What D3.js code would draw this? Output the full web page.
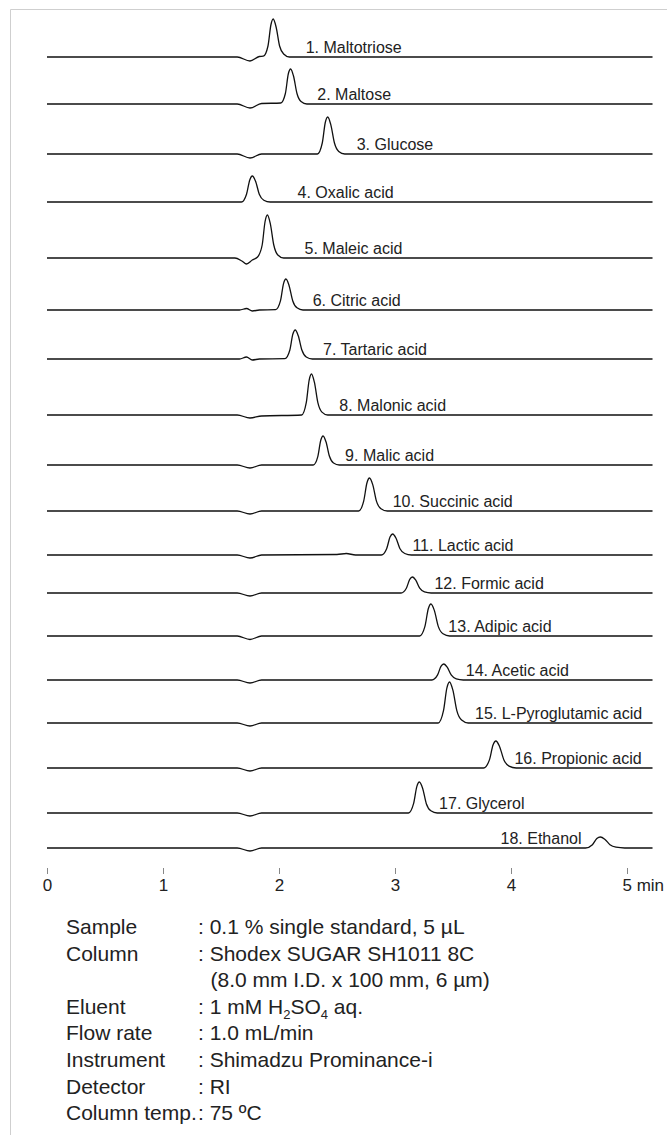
<!DOCTYPE html>
<html>
<head>
<meta charset="utf-8">
<script src="https://cdn.jsdelivr.net/npm/d3@7"></script>
<style>
  body { margin: 0; background: #fff; }
  svg { display: block; font-family: "Liberation Sans", Arial, sans-serif; }
</style>
</head>
<body>
<div id="viz"></div>
<script>
// compound names, one chromatogram each (top to bottom)
const compounds = [
    "1. Maltotriose", "2. Maltose", "3. Glucose", "4. Oxalic acid", "5. Maleic acid",
    "6. Citric acid", "7. Tartaric acid", "8. Malonic acid", "9. Malic acid",
    "10. Succinic acid", "11. Lactic acid", "12. Formic acid", "13. Adipic acid",
    "14. Acetic acid", "15. L-Pyroglutamic acid", "16. Propionic acid",
    "17. Glycerol", "18. Ethanol"
];

// stacking offset of each trace (signal units)
const offsets = [791, 744, 694, 646, 590, 538, 489, 433, 383, 337, 293, 255, 212, 168, 125, 80, 35, 0];

// where each peak label starts (min)
const labelTimes = [2.23, 2.33, 2.67, 2.16, 2.22, 2.29, 2.38, 2.52, 2.57, 2.98, 3.15, 3.34, 3.46, 3.61, 3.69, 4.03, 3.38, 3.91];

// traces: [time (min), signal]
const signals = [
    [[0,0],[1.64,0],[1.75,-4],[1.83,0.5],[1.865,0.8],[1.905,11],[1.93,32],[1.95,38],[1.975,30],[2.005,11],[2.04,3],[2.09,0],[5.22,0]],
    [[0,0],[1.64,0],[1.75,-4],[1.85,0.5],[2.015,1],[2.055,10.5],[2.08,30],[2.10,35],[2.125,28],[2.155,10.5],[2.19,2.5],[2.24,0],[5.22,0]],
    [[0,0],[1.64,0],[1.75,-4],[1.85,0],[2.331,0],[2.373,11],[2.399,31.5],[2.42,37],[2.446,29.6],[2.478,11],[2.515,2.6],[2.567,0],[5.22,0]],
    [[0,0],[1.676,0],[1.72,7.8],[1.748,22],[1.77,26],[1.798,20.8],[1.83,7.8],[1.869,1.8],[1.924,0],[5.22,0]],
    [[0,0],[1.62,0],[1.68,-3],[1.72,-6],[1.77,-2],[1.815,1],[1.855,13],[1.88,36.5],[1.90,43],[1.925,34.4],[1.955,13],[1.99,3],[2.04,0],[5.22,0]],
    [[0,0],[1.66,0],[1.72,1.5],[1.77,-1],[1.83,0],[1.971,0.3],[2.013,9.3],[2.039,26.4],[2.06,31],[2.086,24.8],[2.118,9.3],[2.155,2.2],[2.207,0],[5.22,0]],
    [[0,0],[1.66,0],[1.72,2],[1.77,-1],[1.83,0],[2.051,0.3],[2.093,8.7],[2.119,24.7],[2.14,29],[2.166,23.2],[2.198,8.7],[2.235,2],[2.287,0],[5.22,0]],
    [[0,0],[1.64,0],[1.75,-3],[1.85,-1],[2.195,0],[2.235,12.3],[2.26,34.9],[2.28,41],[2.305,32.8],[2.335,12.3],[2.37,2.9],[2.42,0],[5.22,0]],
    [[0,0],[1.64,0],[1.75,-3],[1.85,0],[2.295,0],[2.335,8.7],[2.36,24.7],[2.38,29],[2.405,23.2],[2.435,8.7],[2.47,2],[2.52,0],[5.22,0]],
    [[0,0],[1.64,0],[1.75,-3],[1.85,0],[2.686,0],[2.73,9.9],[2.758,28],[2.78,33],[2.808,26.4],[2.84,9.9],[2.879,2.3],[2.934,0],[5.22,0]],
    [[0,0],[1.64,0],[1.75,-3],[1.85,0],[2.50,0.5],[2.58,1.5],[2.66,0],[2.882,0],[2.928,6.3],[2.957,17.9],[2.98,21],[3.009,16.8],[3.043,6.3],[3.084,1.5],[3.141,0],[5.22,0]],
    [[0,0],[1.64,0],[1.75,-3],[1.85,0],[3.052,0],[3.098,4.8],[3.127,13.6],[3.15,16],[3.179,12.8],[3.213,4.8],[3.254,1.1],[3.311,0],[5.22,0]],
    [[0,0],[1.64,0],[1.75,-3.5],[1.85,0],[3.212,0],[3.258,9.6],[3.287,27.2],[3.31,32],[3.339,25.6],[3.373,9.6],[3.414,2.2],[3.471,0],[5.22,0]],
    [[0,0],[1.64,0],[1.75,-3],[1.85,0],[3.318,0],[3.366,4.8],[3.396,13.6],[3.42,16],[3.45,12.8],[3.486,4.8],[3.528,1.1],[3.588,0],[5.22,0]],
    [[0,0],[1.64,0],[1.75,-3],[1.85,0],[3.372,0],[3.418,12.3],[3.447,34.9],[3.47,41],[3.499,32.8],[3.533,12.3],[3.574,2.9],[3.631,0],[5.22,0]],
    [[0,0],[1.64,0],[1.75,-3],[1.85,0],[3.764,0],[3.814,8.1],[3.845,23],[3.87,27],[3.901,21.6],[3.939,8.1],[3.983,1.9],[4.045,0],[5.22,0]],
    [[0,0],[1.64,0],[1.75,-3],[1.85,0],[3.116,0],[3.16,9.3],[3.188,26.4],[3.21,31],[3.238,24.8],[3.27,9.3],[3.309,2.2],[3.364,0],[5.22,0]],
    [[0,0],[1.64,0],[1.75,-3],[1.85,0],[4.642,0],[4.702,3.3],[4.74,9.4],[4.77,11],[4.808,8.8],[4.853,3.3],[4.905,0.8],[4.98,0],[5.22,0]]
];

const timeTicks = [0, 1, 2, 3, 4, 5];

// conditions table
const infoLabels = ["Sample", "Column", "", "Eluent", "Flow rate", "Instrument", "Detector", "Column temp."];
const infoValues = [
    ": 0.1 % single standard, 5 µL",
    ": Shodex SUGAR SH1011 8C",
    "(8.0 mm I.D. x 100 mm, 6 µm)",
    [": 1 mM H", "2", "SO", "4", " aq."],
    ": 1.0 mL/min",
    ": Shimadzu Prominance-i",
    ": RI",
    ": 75 ºC"
];

const width = 667, height = 1135;

const svg = d3.select("#viz").append("svg")
    .attr("width", width)
    .attr("height", height);

// frame
svg.append("path")
    .attr("d", `M10.5,${height} V9.5 H${width}`)
    .attr("fill", "none")
    .attr("stroke", "#cfcfcf")
    .attr("stroke-width", 1);

const x = d3.scaleLinear()
    .domain([0, 5])
    .range([47, 627]);

const y = d3.scaleLinear()
    .domain([0, 791])
    .range([848, 57]);

// chromatograms
signals.forEach((pts, i) => {
    const line = d3.line()
        .x(d => x(d[0]))
        .y(d => y(offsets[i] + d[1]))
        .curve(d3.curveMonotoneX);

    svg.append("path")
        .datum(pts)
        .attr("d", line)
        .attr("fill", "none")
        .attr("stroke", "#111")
        .attr("stroke-width", 1.3)
        .attr("stroke-linejoin", "round");

    svg.append("text")
        .attr("x", x(labelTimes[i]))
        .attr("y", y(offsets[i] + 10))
        .attr("dy", "0.35em")
        .style("font-size", "16px")
        .attr("fill", "#222")
        .text(compounds[i]);
});

// time axis
const xAxis = d3.axisBottom(x)
    .tickValues(timeTicks)
    .tickSize(6)
    .tickPadding(5)
    .tickFormat(d => d === 5 ? "5 min" : d);

const axisG = svg.append("g")
    .attr("transform", "translate(0, 868)")
    .call(xAxis);

axisG.select(".domain").remove();
axisG.selectAll(".tick line").attr("stroke", "#888");
axisG.selectAll(".tick text")
    .attr("fill", "#222")
    .style("font-size", "17px")
    .style("font-family", "'Liberation Sans', Arial, sans-serif");
axisG.selectAll(".tick text")
    .filter(d => d === 5)
    .attr("text-anchor", "start")
    .attr("x", -5);

// conditions
const info = svg.append("g")
    .style("font-size", "21px")
    .attr("fill", "#222");

infoLabels.forEach((lab, i) => {
    const ty = 934 + i * 26.6;
    info.append("text")
        .attr("x", 66)
        .attr("y", ty)
        .text(lab);

    const v = infoValues[i];
    const t = info.append("text")
        .attr("x", lab === "" ? 210.5 : 198)
        .attr("y", ty);
    if (Array.isArray(v)) {
        v.forEach((part, k) => {
            const sub = k % 2 === 1;
            t.append("tspan")
                .attr("dy", sub ? 5 : (k > 0 ? -5 : 0))
                .style("font-size", sub ? "13px" : null)
                .text(part);
        });
    } else {
        t.text(v);
    }
});
</script>
</body>
</html>
